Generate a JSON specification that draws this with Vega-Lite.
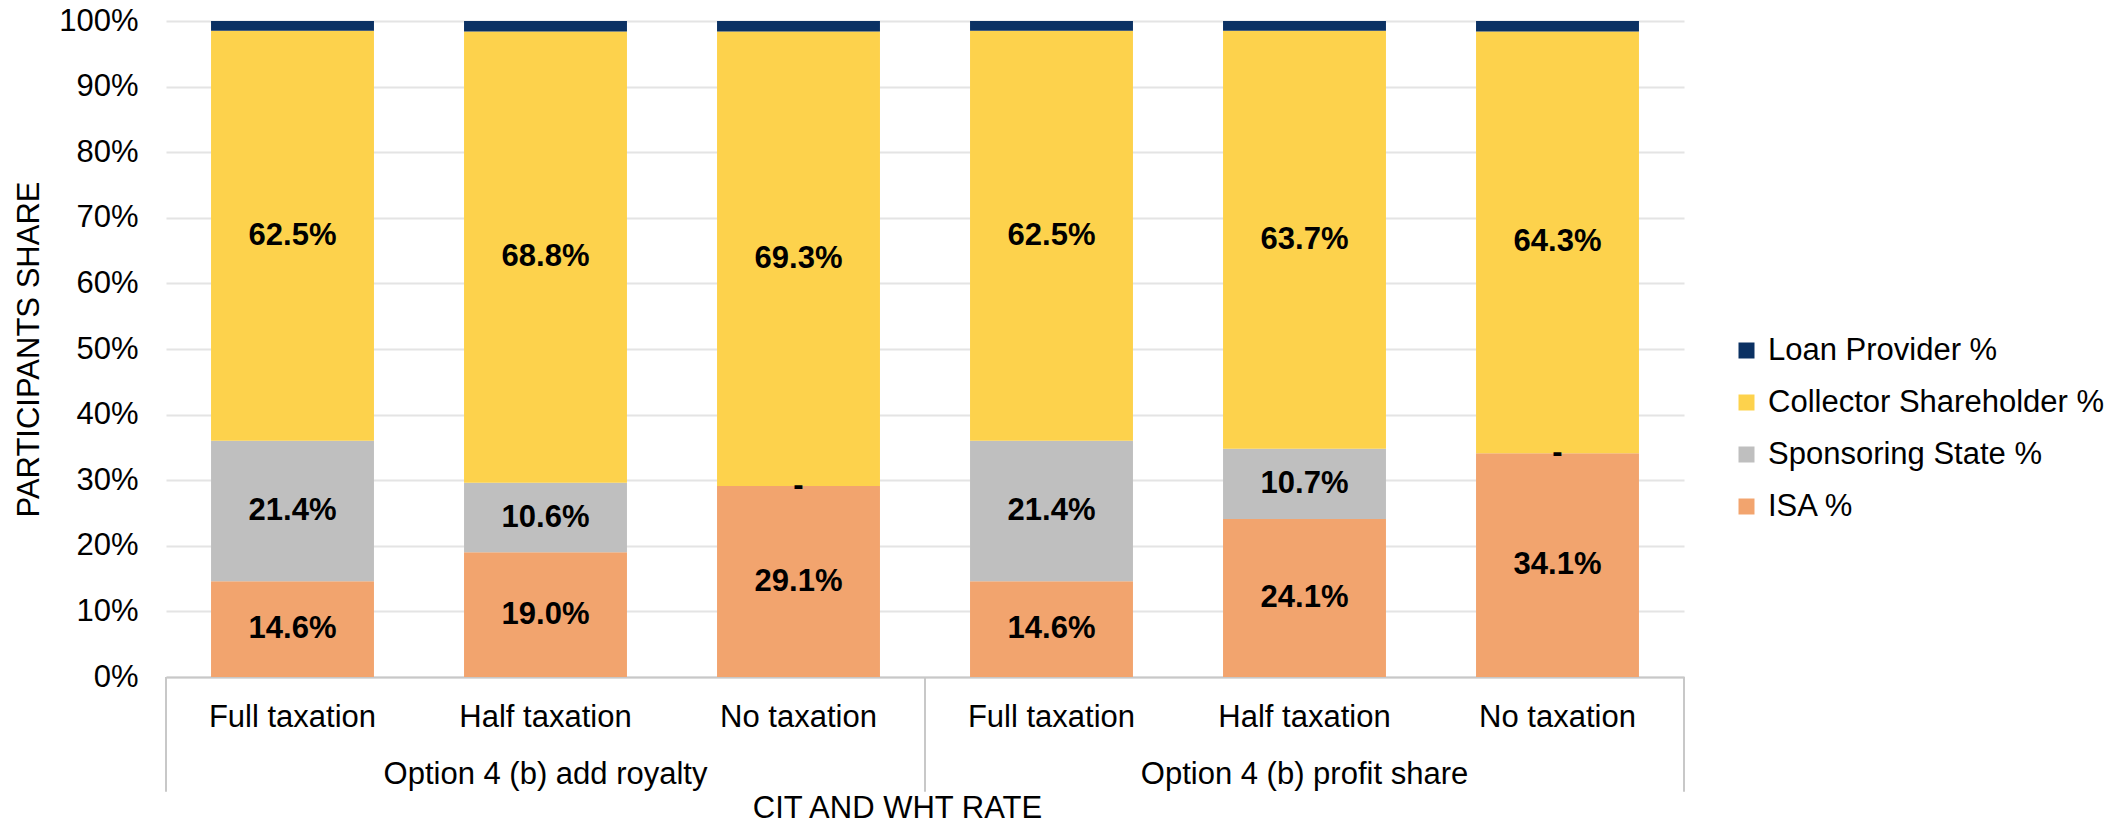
{
  "$schema": "https://vega.github.io/schema/vega-lite/v6.json",
  "width": 1518,
  "height": 656,
  "autosize": "none",
  "padding": {"left": 166, "top": 21, "right": 432, "bottom": 152},
  "background": "white",
  "config": {
    "font": "Liberation Sans",
    "view": {"stroke": null}
  },
  "layer": [
    {
      "data": {
        "values": [
          {"group": "Option 4 (b) add royalty", "tax": "Full taxation", "participant": "ISA %", "value": 14.6},
          {"group": "Option 4 (b) add royalty", "tax": "Full taxation", "participant": "Sponsoring State %", "value": 21.4},
          {"group": "Option 4 (b) add royalty", "tax": "Full taxation", "participant": "Collector Shareholder %", "value": 62.5},
          {"group": "Option 4 (b) add royalty", "tax": "Full taxation", "participant": "Loan Provider %", "value": 1.5},
          {"group": "Option 4 (b) add royalty", "tax": "Half taxation", "participant": "ISA %", "value": 19.0},
          {"group": "Option 4 (b) add royalty", "tax": "Half taxation", "participant": "Sponsoring State %", "value": 10.6},
          {"group": "Option 4 (b) add royalty", "tax": "Half taxation", "participant": "Collector Shareholder %", "value": 68.8},
          {"group": "Option 4 (b) add royalty", "tax": "Half taxation", "participant": "Loan Provider %", "value": 1.6},
          {"group": "Option 4 (b) add royalty", "tax": "No taxation", "participant": "ISA %", "value": 29.1},
          {"group": "Option 4 (b) add royalty", "tax": "No taxation", "participant": "Sponsoring State %", "value": 0},
          {"group": "Option 4 (b) add royalty", "tax": "No taxation", "participant": "Collector Shareholder %", "value": 69.3},
          {"group": "Option 4 (b) add royalty", "tax": "No taxation", "participant": "Loan Provider %", "value": 1.6},
          {"group": "Option 4 (b) profit share", "tax": "Full taxation", "participant": "ISA %", "value": 14.6},
          {"group": "Option 4 (b) profit share", "tax": "Full taxation", "participant": "Sponsoring State %", "value": 21.4},
          {"group": "Option 4 (b) profit share", "tax": "Full taxation", "participant": "Collector Shareholder %", "value": 62.5},
          {"group": "Option 4 (b) profit share", "tax": "Full taxation", "participant": "Loan Provider %", "value": 1.5},
          {"group": "Option 4 (b) profit share", "tax": "Half taxation", "participant": "ISA %", "value": 24.1},
          {"group": "Option 4 (b) profit share", "tax": "Half taxation", "participant": "Sponsoring State %", "value": 10.7},
          {"group": "Option 4 (b) profit share", "tax": "Half taxation", "participant": "Collector Shareholder %", "value": 63.7},
          {"group": "Option 4 (b) profit share", "tax": "Half taxation", "participant": "Loan Provider %", "value": 1.5},
          {"group": "Option 4 (b) profit share", "tax": "No taxation", "participant": "ISA %", "value": 34.1},
          {"group": "Option 4 (b) profit share", "tax": "No taxation", "participant": "Sponsoring State %", "value": 0},
          {"group": "Option 4 (b) profit share", "tax": "No taxation", "participant": "Collector Shareholder %", "value": 64.3},
          {"group": "Option 4 (b) profit share", "tax": "No taxation", "participant": "Loan Provider %", "value": 1.6}
        ]
      },
      "transform": [
        {"calculate": "datum.group + ' · ' + datum.tax", "as": "key"},
        {"calculate": "indexof(['ISA %','Sponsoring State %','Collector Shareholder %','Loan Provider %'], datum.participant)", "as": "ord"},
        {"stack": "value", "groupby": ["key"], "sort": [{"field": "ord", "order": "ascending"}], "as": ["v0", "v1"]},
        {"calculate": "(datum.v0 + datum.v1) / 2", "as": "mid"},
        {"calculate": "datum.value == 0 ? '-' : format(datum.value, '.1f') + '%'", "as": "label"}
      ],
      "layer": [
        {
          "mark": {"type": "bar", "width": {"band": 0.644}},
          "encoding": {
            "x": {
              "field": "key",
              "type": "nominal",
              "sort": null,
              "scale": {
                "domain": [
                  "Option 4 (b) add royalty · Full taxation",
                  "Option 4 (b) add royalty · Half taxation",
                  "Option 4 (b) add royalty · No taxation",
                  "Option 4 (b) profit share · Full taxation",
                  "Option 4 (b) profit share · Half taxation",
                  "Option 4 (b) profit share · No taxation"
                ],
                "paddingInner": 0,
                "paddingOuter": 0
              },
              "title": "CIT AND WHT RATE",
              "axis": {
                "labelExpr": "split(datum.label, ' · ')[1]",
                "labelAngle": 0,
                "labelFontSize": 31,
                "labelColor": "#000000",
                "labelPadding": 25,
                "ticks": false,
                "tickSize": 0,
                "domain": true,
                "domainColor": "#c8c8c8",
                "domainWidth": 2,
                "grid": false,
                "titleFontSize": 31,
                "titleFontWeight": "normal",
                "titleColor": "#000000",
                "titleX": 731,
                "titleY": 116,
                "titleBaseline": "top"
              }
            },
            "y": {
              "field": "v0",
              "type": "quantitative",
              "scale": {"domain": [0, 100], "nice": false},
              "title": "PARTICIPANTS SHARE",
              "axis": {
                "values": [0, 10, 20, 30, 40, 50, 60, 70, 80, 90, 100],
                "labelExpr": "datum.value + '%'",
                "labelFontSize": 31,
                "labelColor": "#000000",
                "labelPadding": 28,
                "ticks": false,
                "tickSize": 0,
                "domain": false,
                "grid": true,
                "gridColor": "#e4e4e4",
                "gridWidth": 2,
                "titleFontSize": 31,
                "titleFontWeight": "normal",
                "titleColor": "#000000",
                "titlePadding": 13
              }
            },
            "y2": {"field": "v1"},
            "color": {
              "field": "participant",
              "type": "nominal",
              "sort": ["Loan Provider %", "Collector Shareholder %", "Sponsoring State %", "ISA %"],
              "scale": {
                "domain": ["Loan Provider %", "Collector Shareholder %", "Sponsoring State %", "ISA %"],
                "range": ["#0b3163", "#fdd24c", "#bfbfbf", "#f2a46e"]
              },
              "legend": {
                "title": null,
                "orient": "none",
                "legendX": 1565,
                "legendY": 314,
                "padding": 0,
                "symbolType": "square",
                "symbolSize": 256,
                "symbolStrokeWidth": 0,
                "labelFontSize": 31,
                "labelColor": "#000000",
                "labelOffset": 6,
                "rowPadding": 20,
                "labelLimit": 500
              }
            },
            "order": {"field": "ord", "type": "quantitative"}
          }
        },
        {
          "transform": [{"filter": "datum.participant != 'Loan Provider %'"}],
          "mark": {"type": "text", "fontSize": 31, "fontWeight": "bold", "color": "#000000", "baseline": "middle", "align": "center"},
          "encoding": {
            "x": {"field": "key", "type": "nominal", "sort": null, "title": "CIT AND WHT RATE"},
            "y": {"field": "mid", "type": "quantitative", "title": "PARTICIPANTS SHARE"},
            "text": {"field": "label"}
          }
        }
      ]
    },
    {
      "data": {
        "values": [
          {"group": "Option 4 (b) add royalty", "tax": "Half taxation"},
          {"group": "Option 4 (b) profit share", "tax": "Half taxation"}
        ]
      },
      "transform": [{"calculate": "datum.group + ' · ' + datum.tax", "as": "key"}],
      "mark": {"type": "text", "fontSize": 31, "color": "#000000", "baseline": "middle", "align": "center"},
      "encoding": {
        "x": {"field": "key", "type": "nominal", "sort": null, "title": "CIT AND WHT RATE"},
        "y": {"datum": -14.9, "type": "quantitative", "title": "PARTICIPANTS SHARE"},
        "text": {"field": "group"}
      }
    },
    {
      "data": {
        "values": [
          {"group": "Option 4 (b) add royalty", "tax": "Full taxation"},
          {"group": "Option 4 (b) profit share", "tax": "Full taxation"}
        ]
      },
      "transform": [{"calculate": "datum.group + ' · ' + datum.tax", "as": "key"}],
      "mark": {"type": "rule", "color": "#c8c8c8", "strokeWidth": 2},
      "encoding": {
        "x": {"field": "key", "type": "nominal", "sort": null, "bandPosition": 0, "title": "CIT AND WHT RATE"},
        "y": {"datum": 0, "type": "quantitative", "title": "PARTICIPANTS SHARE"},
        "y2": {"datum": -17.5}
      }
    },
    {
      "data": {
        "values": [
          {"group": "Option 4 (b) profit share", "tax": "No taxation"}
        ]
      },
      "transform": [{"calculate": "datum.group + ' · ' + datum.tax", "as": "key"}],
      "mark": {"type": "rule", "color": "#c8c8c8", "strokeWidth": 2},
      "encoding": {
        "x": {"field": "key", "type": "nominal", "sort": null, "bandPosition": 1, "title": "CIT AND WHT RATE"},
        "y": {"datum": 0, "type": "quantitative", "title": "PARTICIPANTS SHARE"},
        "y2": {"datum": -17.5}
      }
    }
  ]
}
